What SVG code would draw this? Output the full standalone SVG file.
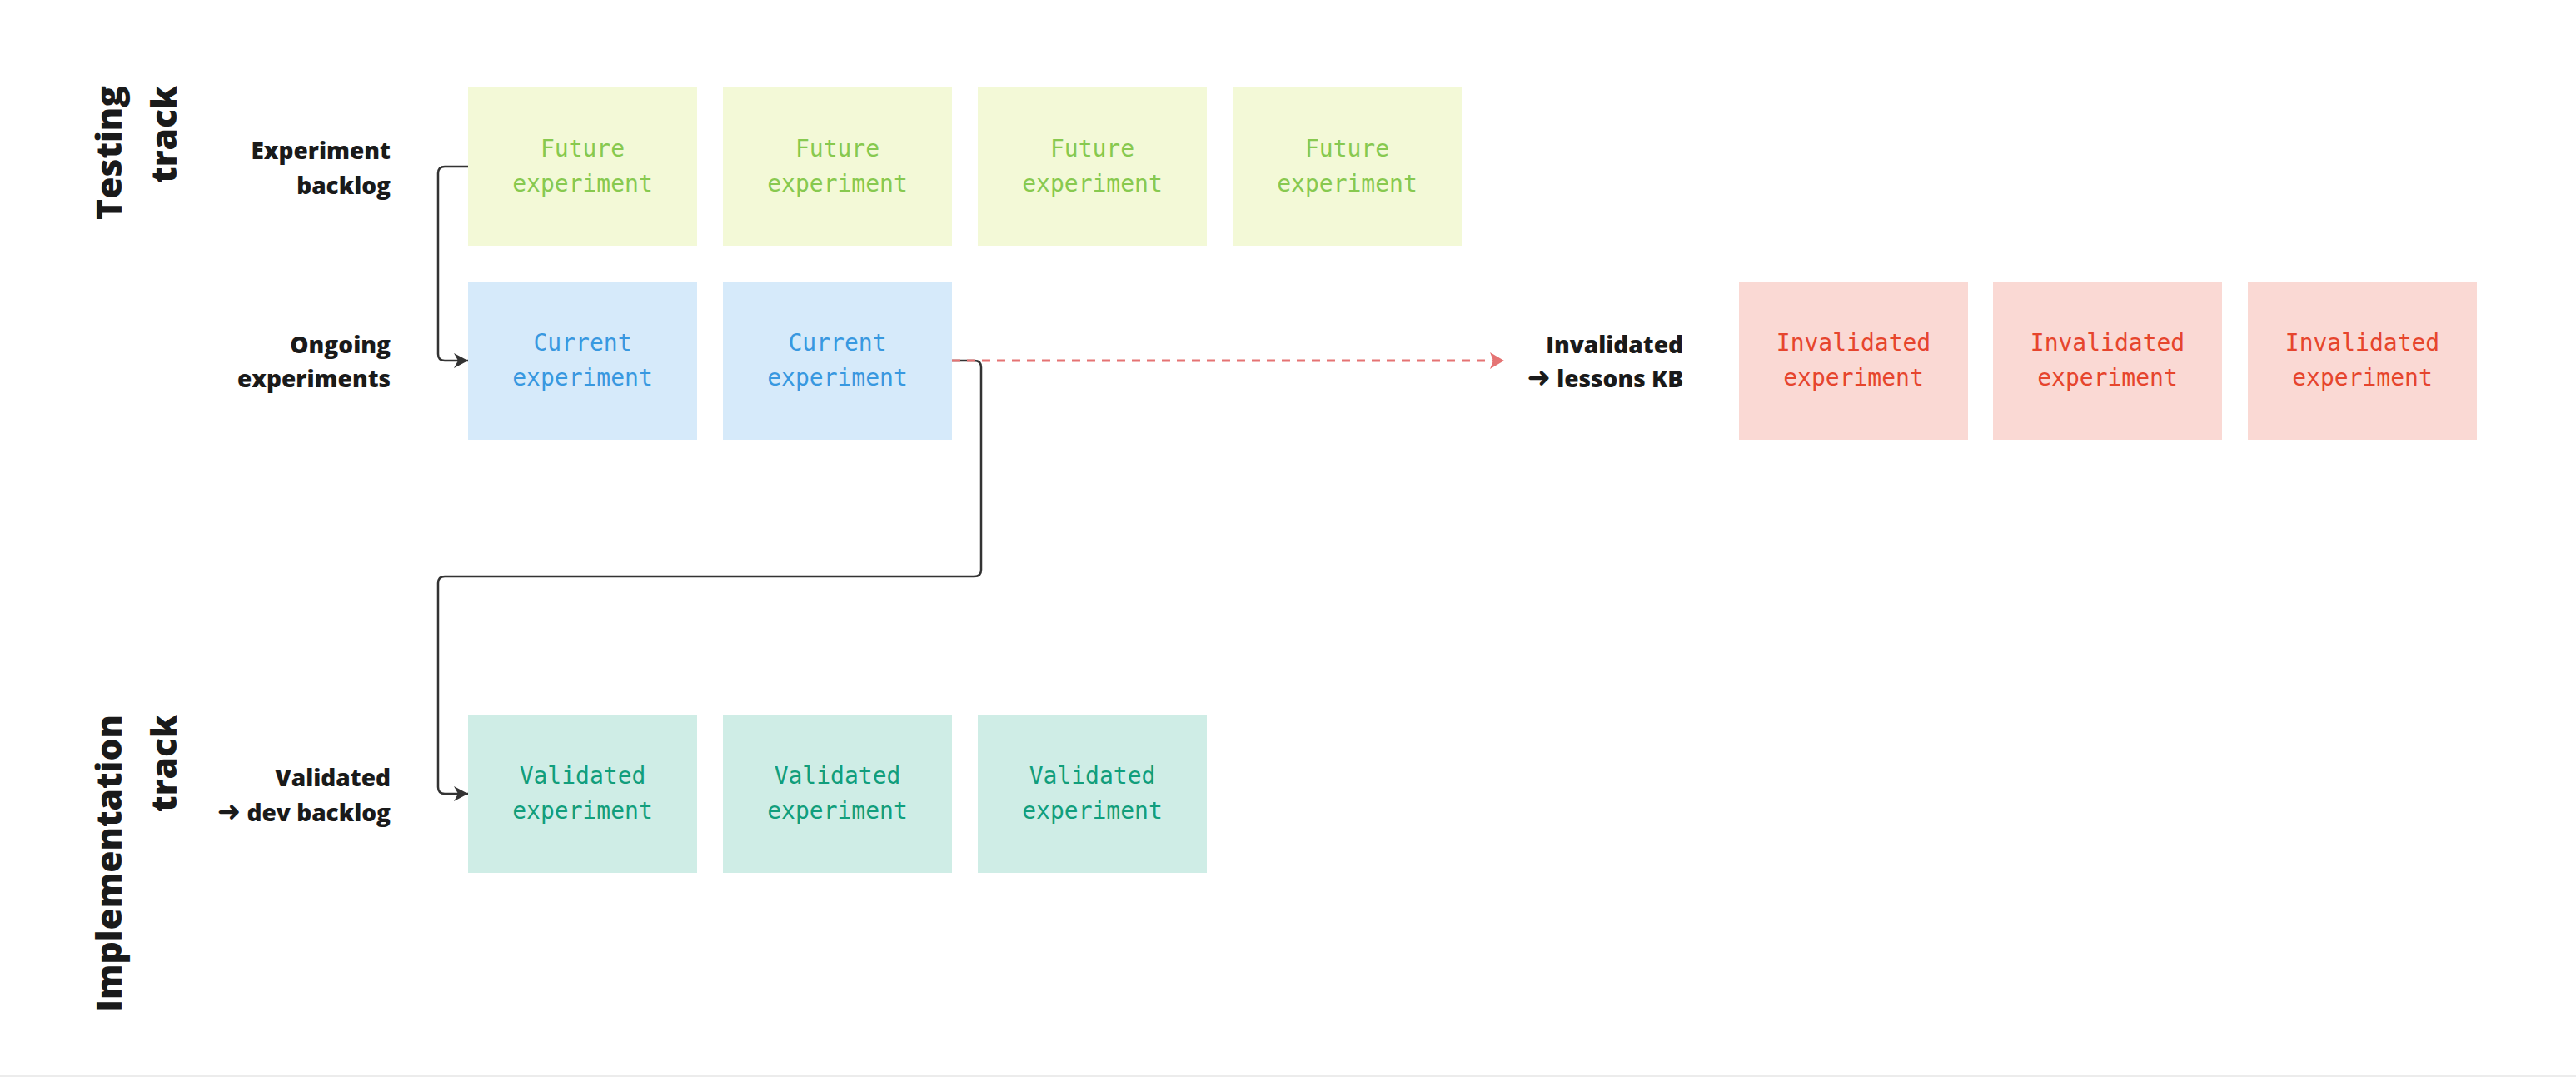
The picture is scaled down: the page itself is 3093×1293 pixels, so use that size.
<svg xmlns="http://www.w3.org/2000/svg" width="3093" height="1293" viewBox="0 0 3093 1293">
<style>
.title{font-family:"Open Sans","Noto Sans","DejaVu Sans",sans-serif;font-weight:800;font-size:42.5px;fill:#1a1a1a;text-anchor:end}
.lbl{font-family:"Open Sans","Noto Sans","DejaVu Sans",sans-serif;font-weight:800;font-size:28px;fill:#1a1a1a;text-anchor:end}
.arr{font-family:"DejaVu Sans",sans-serif;font-weight:700;font-size:34px}
.bt{font-family:"DejaVu Sans Mono","Liberation Mono",monospace;font-size:28px;text-anchor:middle}
.fut rect{fill:#f3f9d7}.fut text{fill:#87c94f}
.cur rect{fill:#d6eafa}.cur text{fill:#3898e0}
.inv rect{fill:#fad9d4}.inv text{fill:#e6452d}
.val rect{fill:#cfede6}.val text{fill:#119e7c}
.conn{fill:none;stroke:#333;stroke-width:2.5}
.dash{fill:none;stroke:#e57373;stroke-width:3;stroke-dasharray:10 8}
</style>
<defs>
<marker id="ah" viewBox="0 0 20 20" refX="19" refY="10" markerWidth="20" markerHeight="20" markerUnits="userSpaceOnUse" orient="auto">
<path d="M2,1 L19,10 L2,19 L7,10 Z" fill="#333"/>
</marker>
<marker id="ahr" viewBox="0 0 20 22" refX="19" refY="11" markerWidth="20" markerHeight="22" markerUnits="userSpaceOnUse" orient="auto">
<path d="M2,1 L19,11 L2,21 L6,11 Z" fill="#e57373"/>
</marker>
</defs>
<rect x="0" y="0" width="3093" height="1293" fill="#fff"/>
<rect x="0" y="1291" width="3093" height="2" fill="#ececec"/>

<g id="title-testing">
<text class="title" transform="translate(146,103) rotate(-90)"><tspan x="0" y="0">Testing</tspan><tspan x="0" y="66">track</tspan></text>
</g>
<g id="title-implementation">
<text class="title" transform="translate(146,858) rotate(-90)"><tspan x="0" y="0">Implementation</tspan><tspan x="0" y="66">track</tspan></text>
</g>

<g id="label-backlog"><text class="lbl"><tspan x="469" y="191">Experiment</tspan><tspan x="469" y="233">backlog</tspan></text></g>
<g id="label-ongoing"><text class="lbl"><tspan x="469" y="424">Ongoing</tspan><tspan x="469" y="465">experiments</tspan></text></g>
<g id="label-invalidated"><text class="lbl"><tspan x="2021" y="424">Invalidated</tspan><tspan x="2021" y="465"><tspan class="arr">➜</tspan> lessons KB</tspan></text></g>
<g id="label-validated"><text class="lbl"><tspan x="469" y="944">Validated</tspan><tspan x="469" y="986"><tspan class="arr">➜</tspan> dev backlog</tspan></text></g>

<g id="future-1" class="fut"><rect x="562" y="105" width="275" height="190"/><text class="bt"><tspan x="699.5" y="188">Future</tspan><tspan x="699.5" y="230">experiment</tspan></text></g>
<g id="future-2" class="fut"><rect x="868" y="105" width="275" height="190"/><text class="bt"><tspan x="1005.5" y="188">Future</tspan><tspan x="1005.5" y="230">experiment</tspan></text></g>
<g id="future-3" class="fut"><rect x="1174" y="105" width="275" height="190"/><text class="bt"><tspan x="1311.5" y="188">Future</tspan><tspan x="1311.5" y="230">experiment</tspan></text></g>
<g id="future-4" class="fut"><rect x="1480" y="105" width="275" height="190"/><text class="bt"><tspan x="1617.5" y="188">Future</tspan><tspan x="1617.5" y="230">experiment</tspan></text></g>

<g id="current-1" class="cur"><rect x="562" y="338" width="275" height="190"/><text class="bt"><tspan x="699.5" y="421">Current</tspan><tspan x="699.5" y="463">experiment</tspan></text></g>
<g id="current-2" class="cur"><rect x="868" y="338" width="275" height="190"/><text class="bt"><tspan x="1005.5" y="421">Current</tspan><tspan x="1005.5" y="463">experiment</tspan></text></g>

<g id="invalidated-1" class="inv"><rect x="2088" y="338" width="275" height="190"/><text class="bt"><tspan x="2225.5" y="421">Invalidated</tspan><tspan x="2225.5" y="463">experiment</tspan></text></g>
<g id="invalidated-2" class="inv"><rect x="2393" y="338" width="275" height="190"/><text class="bt"><tspan x="2530.5" y="421">Invalidated</tspan><tspan x="2530.5" y="463">experiment</tspan></text></g>
<g id="invalidated-3" class="inv"><rect x="2699" y="338" width="275" height="190"/><text class="bt"><tspan x="2836.5" y="421">Invalidated</tspan><tspan x="2836.5" y="463">experiment</tspan></text></g>

<g id="validated-1" class="val"><rect x="562" y="858" width="275" height="190"/><text class="bt"><tspan x="699.5" y="941">Validated</tspan><tspan x="699.5" y="983">experiment</tspan></text></g>
<g id="validated-2" class="val"><rect x="868" y="858" width="275" height="190"/><text class="bt"><tspan x="1005.5" y="941">Validated</tspan><tspan x="1005.5" y="983">experiment</tspan></text></g>
<g id="validated-3" class="val"><rect x="1174" y="858" width="275" height="190"/><text class="bt"><tspan x="1311.5" y="941">Validated</tspan><tspan x="1311.5" y="983">experiment</tspan></text></g>

<g id="connectors">
<path class="conn" d="M562,200 H534 Q526,200 526,208 V425 Q526,433 534,433 H562" marker-end="url(#ah)"/>
<path class="conn" d="M1143,433 H1170 Q1178,433 1178,441 V684 Q1178,692 1170,692 H534 Q526,692 526,700 V945 Q526,953 534,953 H562" marker-end="url(#ah)"/>
<path class="dash" d="M1143,433 H1806" marker-end="url(#ahr)"/>
</g>
</svg>
